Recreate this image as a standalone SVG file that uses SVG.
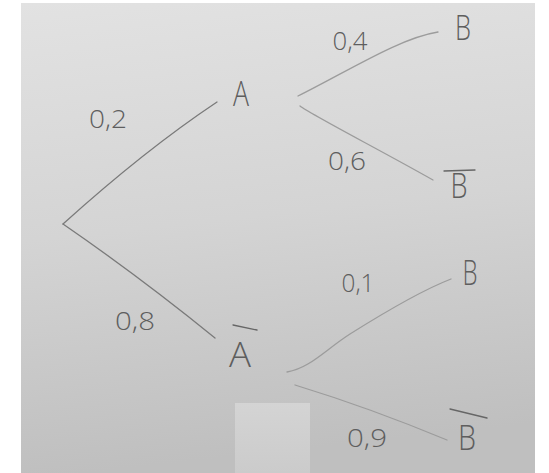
<svg xmlns="http://www.w3.org/2000/svg" width="549" height="473" viewBox="0 0 549 473">
  <defs>
    <linearGradient id="paper" x1="0" y1="0" x2="0.12" y2="1">
      <stop offset="0" stop-color="#e2e2e2"/>
      <stop offset="0.5" stop-color="#d4d4d4"/>
      <stop offset="1" stop-color="#bfbfbf"/>
    </linearGradient>
    <linearGradient id="patch" x1="0" y1="0" x2="0" y2="1">
      <stop offset="0" stop-color="#d4d4d4"/>
      <stop offset="1" stop-color="#cbcbcb"/>
    </linearGradient>
  </defs>
  <style>
    .lbl { font-family: "Open Sans", "Liberation Sans", sans-serif; font-weight: 300; fill: #5e5e5e; text-anchor: middle; }
    .node { font-size: 34px; }
    .prob { font-size: 25px; }
    .edge { fill: none; stroke: #9c9c9c; stroke-width: 1.3; stroke-linecap: round; }
    .edge.root { stroke: #7a7a7a; }
    .bar { stroke: #666666; stroke-width: 1.3; stroke-linecap: round; }
  </style>
  <rect x="0" y="0" width="549" height="473" fill="#ffffff"/>
  <rect x="21" y="3" width="514" height="470" fill="url(#paper)"/>
  <rect x="235" y="403" width="75" height="70" fill="url(#patch)"/>

  <g id="connectors">
    <path class="edge root" d="M63,224 Q145,150 217,102"/>
    <path class="edge root" d="M63,224 Q140,277 215,338"/>
    <path class="edge" d="M298,96 C350,70 400,38 438,32"/>
    <path class="edge" d="M300,106 C310,114 380,150 433,180"/>
    <path class="edge" d="M287,372 C310,368 325,350 350,334 C385,312 420,291 451,279"/>
    <path class="edge" d="M295,385 Q370,408 447,440"/>
    <text class="lbl prob" x="108" y="128" textLength="38" lengthAdjust="spacingAndGlyphs">0,2</text>
    <text class="lbl prob" x="135" y="330" textLength="40" lengthAdjust="spacingAndGlyphs">0,8</text>
    <text class="lbl prob" x="350" y="50" textLength="35" lengthAdjust="spacingAndGlyphs">0,4</text>
    <text class="lbl prob" x="347" y="170" textLength="38" lengthAdjust="spacingAndGlyphs">0,6</text>
    <text class="lbl prob" x="358" y="292" textLength="33" lengthAdjust="spacingAndGlyphs">0,1</text>
    <text class="lbl prob" x="367" y="447" textLength="40" lengthAdjust="spacingAndGlyphs">0,9</text>
  </g>

  <g id="node-root"><circle cx="63" cy="224" r="0.1" fill="#7a7a7a"/></g>
  <g id="node-A">
    <text class="lbl node" x="241" y="106" textLength="16" lengthAdjust="spacingAndGlyphs">A</text>
  </g>
  <g id="node-notA">
    <line class="bar" x1="233" y1="325" x2="257" y2="330"/>
    <text class="lbl node" x="240" y="367" textLength="22" lengthAdjust="spacingAndGlyphs">A</text>
  </g>
  <g id="node-B1">
    <text class="lbl node" x="463" y="40" textLength="16" lengthAdjust="spacingAndGlyphs">B</text>
  </g>
  <g id="node-notB1">
    <line class="bar" x1="444" y1="171" x2="475" y2="170"/>
    <text class="lbl node" x="459" y="198" textLength="17" lengthAdjust="spacingAndGlyphs">B</text>
  </g>
  <g id="node-B2">
    <text class="lbl node" x="470" y="285" textLength="15" lengthAdjust="spacingAndGlyphs">B</text>
  </g>
  <g id="node-notB2">
    <line class="bar" x1="450" y1="409" x2="487" y2="418"/>
    <text class="lbl node" x="467" y="450" textLength="18" lengthAdjust="spacingAndGlyphs">B</text>
  </g>
</svg>
